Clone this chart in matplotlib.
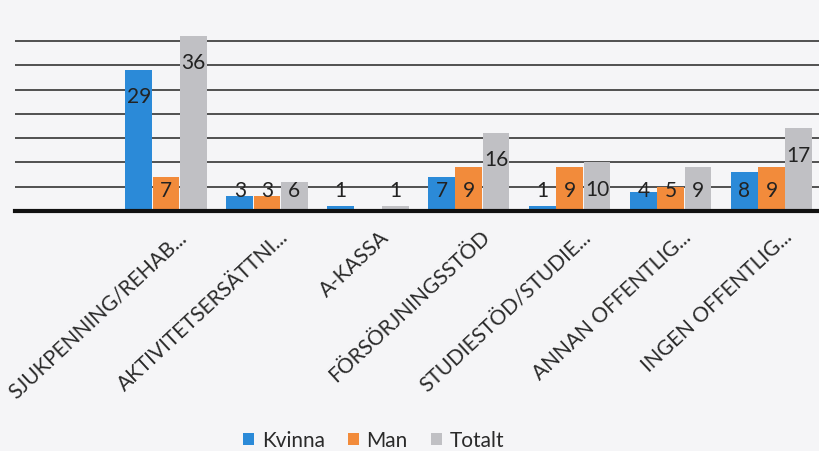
import numpy as np
import matplotlib
matplotlib.use('Agg')
import matplotlib.pyplot as plt
import matplotlib.transforms as mtransforms

# Categories and values
categories = ['SJUKPENNING/REHAB...', 'AKTIVITETSERSÄTTNI...', 'A-KASSA',
              'FÖRSÖRJNINGSSTÖD', 'STUDIESTÖD/STUDIE...', 'ANNAN OFFENTLIG...',
              'INGEN OFFENTLIG...']
kvinna = [29, 3, 1, 7, 1, 4, 8]
man = [7, 3, None, 9, 9, 5, 9]
totalt = [36, 6, 1, 16, 10, 9, 17]
series_names = ['Kvinna', 'Man', 'Totalt']
colors = ['#2b8ad8', '#f28b3b', '#c0c0c4']

plt.rcParams['font.family'] = ['Lato', 'DejaVu Sans']

fig = plt.figure(figsize=(8.19, 4.52), dpi=100)
fig.patch.set_facecolor('#f5f5f7')
ax = fig.add_axes([0.018, 0.531, 0.982, 0.43])
ax.set_facecolor('#f5f5f7')

x = np.arange(len(categories))
width = 0.265
offsets = [-0.27, 0, 0.27]

for vals, off, col, name in zip([kvinna, man, totalt], offsets, colors, series_names):
    v = np.array([np.nan if a is None else a for a in vals], dtype=float)
    ax.bar(x + off, np.nan_to_num(v), width, color=col, label=name, zorder=3)
    for xi, val in zip(x + off, v):
        if np.isnan(val):
            continue
        ypos = max(val - 5.4, 4.4)
        ax.text(xi, ypos, f'{int(val)}', ha='center', va='center',
                fontsize=15, color='#222222', zorder=5)

ax.set_xlim(-1.5, 6.47)
ax.set_ylim(0, 40)
ax.set_yticks([5, 10, 15, 20, 25, 30, 35])
ax.yaxis.grid(True, color='#505050', linewidth=1.4, zorder=0)
ax.tick_params(axis='y', length=0, labelleft=False)
for s in ['top', 'right', 'left']:
    ax.spines[s].set_visible(False)
ax.spines['bottom'].set_linewidth(3)
ax.spines['bottom'].set_color('#111111')
ax.spines['bottom'].set_zorder(6)

ax.set_xticks(x)
ax.set_xticklabels(categories, rotation=43, ha='right', rotation_mode='anchor',
                   fontsize=15, color='#2a2a2a')
ax.tick_params(axis='x', length=0, pad=11)
shift = mtransforms.ScaledTranslation(0.11, 0, fig.dpi_scale_trans)
for lbl in ax.get_xticklabels():
    lbl.set_transform(lbl.get_transform() + shift)

fig.legend(loc='lower center', bbox_to_anchor=(0.456, -0.04), ncol=3, frameon=False,
           fontsize=15, handlelength=0.55, handleheight=0.55, handletextpad=0.35,
           columnspacing=1.1, labelcolor='#2a2a2a')

plt.savefig('out.png', dpi=100, facecolor=fig.get_facecolor())
